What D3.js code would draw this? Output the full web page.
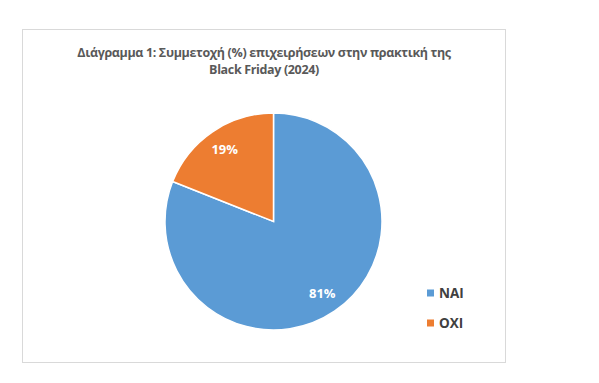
<!DOCTYPE html>
<html>
<head>
<meta charset="utf-8">
<script src="https://cdn.jsdelivr.net/npm/d3@7"></script>
<style>
  body { margin: 0; background: #fff; }
  svg { display: block; }
</style>
</head>
<body>
<div id="chart"></div>
<script>
const categories = ["ΝΑΙ", "ΟΧΙ"];
const values = [81, 19];
const colors = ["#5B9BD5", "#ED7D31"];
const titleLines = ["Διάγραμμα 1: Συμμετοχή (%) επιχειρήσεων στην πρακτική της", "Black Friday (2024)"];

const width = 599, height = 383;

let svg = d3.select("#chart").append("svg")
    .attr("width", width)
    .attr("height", height);

// chart frame
svg.append("rect")
    .attr("x", 22.5)
    .attr("y", 29.5)
    .attr("width", 483)
    .attr("height", 333)
    .attr("fill", "#fff")
    .attr("stroke", "#d9d9d9")
    .attr("stroke-width", 1);

svg.selectAll(".title")
    .data(titleLines)
    .enter().append("text")
    .attr("class", "title")
    .attr("x", 264)
    .attr("y", (d, i) => 57 + i * 17)
    .attr("text-anchor", "middle")
    .style("font-family", "Open Sans")
    .style("font-weight", "bold")
    .style("font-size", "12.5px")
    .style("letter-spacing", "-0.35px")
    .style("fill", "#595959")
    .text(d => d);

const data = categories.map((c, i) => ({ name: c, value: values[i] }));
const radius = 108.5;

let pie = d3.pie().sort(null).value(d => d.value);
let arc = d3.arc().innerRadius(0).outerRadius(radius);
let labelArc = d3.arc().innerRadius(radius * 0.8).outerRadius(radius * 0.8);

let g = svg.append("g")
    .attr("transform", "translate(273.5,221.5)");

let slices = g.selectAll(".slice")
    .data(pie(data))
    .enter().append("g")
    .attr("class", "slice");

slices.append("path")
    .attr("d", arc)
    .attr("fill", (d, i) => colors[i])
    .attr("stroke", "#fff")
    .attr("stroke-width", 1.5);

slices.append("text")
    .attr("transform", d => "translate(" + labelArc.centroid(d) + ")")
    .attr("dy", "0.35em")
    .attr("text-anchor", "middle")
    .style("font-family", "Open Sans")
    .style("font-weight", "bold")
    .style("font-size", "13px")
    .style("fill", "#fff")
    .text(d => d.data.value + "%");

// legend
let legend = svg.selectAll(".legend")
    .data(data)
    .enter().append("g")
    .attr("class", "legend")
    .attr("transform", (d, i) => "translate(427," + (293 + i * 30) + ")");

legend.append("rect")
    .attr("x", 0)
    .attr("y", -3.5)
    .attr("width", 7)
    .attr("height", 7)
    .attr("fill", (d, i) => colors[i]);

legend.append("text")
    .attr("x", 12)
    .attr("dy", "0.35em")
    .style("font-family", "Open Sans")
    .style("font-weight", "bold")
    .style("font-size", "13.5px")
    .style("fill", "#404040")
    .text(d => d.name);
</script>
</body>
</html>
